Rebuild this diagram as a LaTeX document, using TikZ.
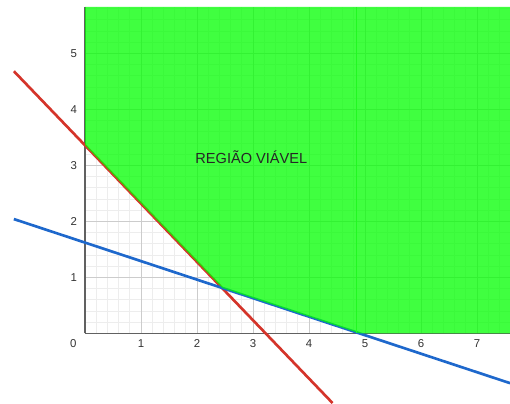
\documentclass[tikz,border=0pt]{standalone}
\usepackage{fontspec}
\setmainfont{Liberation Sans}
\definecolor{redc}{RGB}{212,52,42}
\definecolor{bluec}{RGB}{30,104,204}
\definecolor{greenc}{RGB}{0,255,0}
\definecolor{brightg}{RGB}{34,248,34}
\begin{document}
\begin{tikzpicture}[x=1cm,y=1cm,
  minorgrid/.style={black!7,line width=0.35pt},
  majorgrid/.style={black!20,line width=0.5pt},
  axisline/.style={black!62,line width=0.8pt},
  ticklab/.style={font=\fontsize{5.8}{7}\selectfont,text=black!80,inner sep=0pt},
  redline/.style={draw=redc,line width=1.35pt},
  blueline/.style={draw=bluec,line width=1.35pt},
  feasible/.style={fill=greenc,fill opacity=0.75},
  label/.style={font=\fontsize{7.4}{9}\selectfont,text=black!85,inner sep=0pt}]
\useasboundingbox (-1.518,-1.245) rectangle (7.589,5.952);
\def\xr{7.59}\def\yt{5.83}
% grid
\draw[minorgrid] (0,0) grid[step=0.2] (\xr,\yt);
\draw[majorgrid] (0,0) grid[step=1] (\xr,\yt);
% axes
\coordinate (o) at (0,0);
\coordinate (xe) at (\xr,0);
\coordinate (ye) at (0,\yt);
\draw[axisline] (o) -- (xe);
\draw[axisline] (o) -- (ye);
% tick labels
\node[ticklab] (t0) at (-0.21,-0.19) {0};
\foreach \i in {1,...,7} \node[ticklab] (tx\i) at (\i,-0.19) {\i};
\foreach \i in {1,...,5} \node[ticklab] (ty\i) at (-0.2,\i) {\i};
% constraint lines
\coordinate (r1) at (-1.27,4.68);
\coordinate (r2) at (4.42,-1.245);
\coordinate (b1) at (-1.27,2.04);
\coordinate (b2) at (\xr,-0.89);
\draw[redline] (r1) -- (r2);
\draw[blueline] (b1) -- (b2);
% feasible region
\coordinate (ry) at (0,3.36);
\coordinate (p) at (2.45,0.81);
\coordinate (bx) at (4.9,0);
\fill[feasible] (0,\yt) -- (ry) -- (p) -- (bx) -- (\xr,0) -- (\xr,\yt) -- cycle;
\coordinate (vb) at (4.85,0);
\coordinate (vt) at (4.85,\yt);
\draw[brightg,line width=0.6pt] (vb) -- (vt);
\node[label] (reg) at (2.97,3.15) {REGIÃO VIÁVEL};
\end{tikzpicture}
\end{document}
